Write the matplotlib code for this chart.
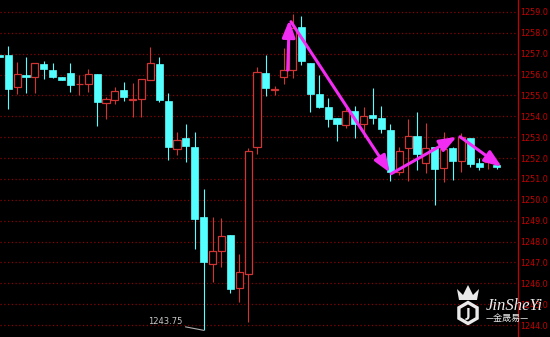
import matplotlib
matplotlib.use("Agg")
import matplotlib.pyplot as plt
from matplotlib.patches import Polygon, RegularPolygon

# candle data (oldest first)
opens = [1256.93, 1256.93, 1255.41, 1255.99, 1255.89, 1256.49, 1256.23, 1255.88, 1256.06, 1255.54,
         1255.53, 1256.02, 1254.65, 1254.78, 1255.26, 1254.76, 1254.82, 1255.73, 1256.50, 1254.74,
         1252.44, 1252.94, 1252.51, 1249.16, 1246.92, 1247.56, 1248.31, 1245.79, 1246.43, 1252.51,
         1256.08, 1255.28, 1255.89, 1256.21, 1258.29, 1256.56, 1255.06, 1254.43, 1253.90, 1253.58,
         1254.24, 1253.63, 1254.07, 1253.90, 1253.34, 1251.31, 1252.46, 1253.07, 1251.77, 1252.51,
         1251.51, 1252.49, 1251.84, 1252.97, 1251.77, 1251.79, 1251.65]
highs = [1256.93, 1257.36, 1256.61, 1256.82, 1256.56, 1256.64, 1256.56, 1255.88, 1256.56, 1255.96,
         1256.25, 1256.02, 1254.93, 1255.39, 1255.65, 1255.60, 1255.77, 1257.33, 1256.82, 1255.13,
         1253.26, 1253.61, 1253.23, 1250.50, 1249.16, 1249.11, 1248.31, 1247.40, 1252.46, 1256.34,
         1256.93, 1255.45, 1257.28, 1258.90, 1258.80, 1256.56, 1255.97, 1254.86, 1253.93, 1254.38,
         1254.50, 1254.43, 1255.34, 1254.49, 1253.63, 1252.51, 1253.87, 1254.19, 1253.66, 1252.51,
         1253.26, 1252.54, 1253.18, 1252.97, 1251.98, 1251.86, 1251.72]
lows = [1256.85, 1254.33, 1255.06, 1255.13, 1255.13, 1255.80, 1255.82, 1255.73, 1255.16, 1255.02,
        1255.16, 1253.52, 1253.85, 1254.59, 1254.73, 1253.98, 1253.98, 1255.73, 1254.70, 1251.90,
        1252.14, 1251.79, 1247.63, 1243.75, 1246.07, 1246.79, 1245.55, 1245.12, 1244.16, 1252.18,
        1254.98, 1255.02, 1255.54, 1255.82, 1256.45, 1254.22, 1254.38, 1253.50, 1252.83, 1253.42,
        1252.94, 1253.02, 1253.61, 1253.18, 1250.91, 1251.18, 1250.91, 1251.42, 1251.27, 1249.75,
        1250.84, 1250.95, 1251.34, 1251.55, 1251.42, 1251.50, 1251.48]
closes = [1256.85, 1255.32, 1256.02, 1255.89, 1256.53, 1256.25, 1255.86, 1255.73, 1255.51, 1255.56,
          1256.02, 1254.67, 1254.81, 1255.21, 1254.91, 1254.84, 1255.77, 1256.56, 1254.78, 1252.54,
          1252.85, 1252.59, 1249.08, 1247.00, 1247.56, 1248.26, 1245.72, 1246.52, 1252.35, 1256.10,
          1255.37, 1255.30, 1256.20, 1258.21, 1256.64, 1255.06, 1254.43, 1253.87, 1253.61, 1254.25,
          1253.61, 1254.01, 1253.90, 1253.37, 1251.31, 1252.33, 1253.07, 1252.18, 1252.49, 1251.49,
          1252.43, 1251.87, 1253.02, 1251.70, 1251.55, 1251.82, 1251.55]

price_ticks = list(range(1244, 1260))
low_label = "1243.75"

# hand-drawn trend arrows: (start index, start price, end index, end price)
trend_arrows = [(32.45, 1256.21, 32.63, 1258.61),
                (32.82, 1258.53, 43.96, 1251.30),
                (44.10, 1251.25, 51.47, 1253.02),
                (51.84, 1253.02, 56.53, 1251.58)]

up_col = '#d23434'
down_col = '#54ffff'
W, H = 550, 337

fig = plt.figure(figsize=(W / 100, H / 100), dpi=100, facecolor='black')
ax = fig.add_axes([0, 0, 518 / W, 1], facecolor='black')

for i, (o, h, l, c) in enumerate(zip(opens, highs, lows, closes)):
  up = c >= o
  col = up_col if up else down_col
  ax.vlines(i, l, h, color=col, lw=0.8, zorder=2)
  bottom = min(o, c)
  height = max(abs(c - o), 0.01)
  if up:
    ax.bar(i, height, bottom=bottom, width=0.8, facecolor='black',
           edgecolor=col, lw=0.9, zorder=3)
  else:
    ax.bar(i, height, bottom=bottom, width=0.8, facecolor=col,
           edgecolor=col, lw=0.5, zorder=3)

# low annotation
lo_i = lows.index(min(lows))
ax.annotate(low_label, xy=(lo_i, lows[lo_i]), xytext=(-21, 4), textcoords='offset pixels',
            ha='right', va='bottom', color='#c8c8c8', fontsize=6,
            arrowprops=dict(arrowstyle='-', color='#b0b0b0', lw=0.8, relpos=(1, 0),
                            shrinkA=0, shrinkB=0), zorder=5)

for x0, y0, x1, y1 in trend_arrows:
  ax.annotate('', xy=(x1, y1), xytext=(x0, y0),
              arrowprops=dict(arrowstyle='-|>,head_length=0.85,head_width=0.32',
                              color='#f22cf2', lw=2.2, mutation_scale=12,
                              shrinkA=0, shrinkB=0), zorder=6)

ax.set_xlim(0.077, 58.37)
ax.set_ylim(1243.43, 1259.57)
ax.set_yticks(price_ticks)
ax.set_yticklabels([f'{p:.1f}' for p in price_ticks])
ax.yaxis.tick_right()
ax.tick_params(axis='y', length=0, pad=1.5, labelcolor='#c40000', labelsize=5.8)
ax.set_xticks([])
ax.grid(axis='y', color='#8a0000', linestyle=(0, (1, 2)), lw=0.9)
for s in ['left', 'top', 'bottom']:
  ax.spines[s].set_visible(False)
ax.spines['right'].set_color('#c40000')
ax.spines['right'].set_linewidth(0.9)

# logo, drawn in pixel coordinates
lg = fig.add_axes([0, 0, 1, 1], facecolor='none')
lg.set_xlim(0, W)
lg.set_ylim(H, 0)
lg.axis('off')
crown = [(459, 300), (457, 289), (463, 295), (468, 285), (473, 295), (479, 289), (477, 300)]
lg.add_patch(Polygon(crown, closed=True, facecolor='white', edgecolor='none', alpha=0.92))
lg.add_patch(RegularPolygon((468, 313), 6, radius=10.5, orientation=0,
                            facecolor='none', edgecolor='white', lw=2.4, alpha=0.92))
lg.text(468, 313.5, 'J', color='white', fontsize=9, fontweight='bold',
        ha='center', va='center', alpha=0.92)
lg.text(486, 306, 'JinSheYi', color='white', fontsize=12, style='italic',
        family='Liberation Serif', ha='left', va='center', alpha=0.92)
lg.text(507, 318.5, '—金晟易—', color='white', fontsize=6.5,
        family=['Noto Sans CJK SC', 'DejaVu Sans'], ha='center', va='center', alpha=0.92)

fig.savefig('out.png', dpi=100, facecolor='black')
